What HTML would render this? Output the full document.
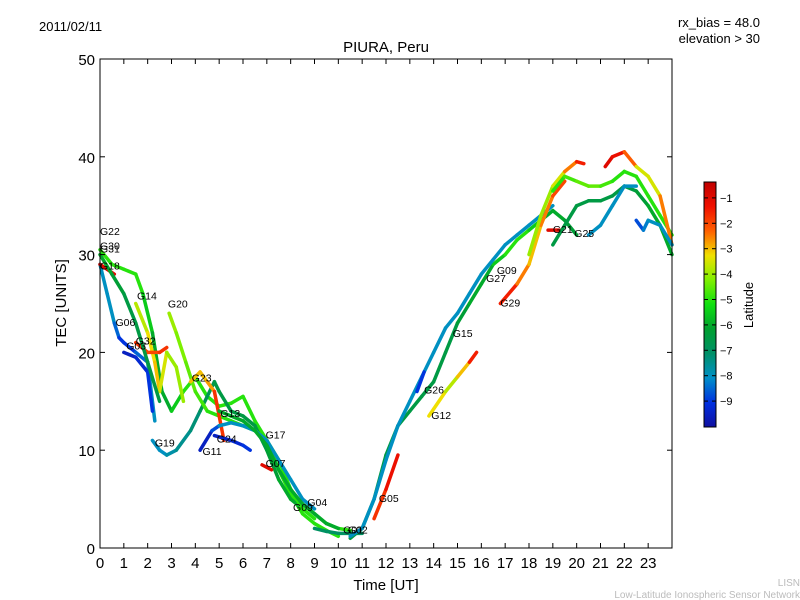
<!DOCTYPE html>
<html><head><meta charset="utf-8"><style>
body{margin:0;background:#fff;}
svg{display:block;font-family:"Liberation Sans","DejaVu Sans",sans-serif;}
</style></head><body>
<svg id="c" width="800" height="600" viewBox="0 0 800 600">
<rect width="800" height="600" fill="#fff"/>
<text x="39" y="31" font-size="13">2011/02/11</text>
<text x="760" y="27" font-size="13" text-anchor="end">rx_bias = 48.0</text>
<text x="760" y="43" font-size="13" text-anchor="end">elevation &gt; 30</text>
<text x="386" y="52" font-size="15" text-anchor="middle">PIURA, Peru</text>
<g id="marks"></g>
<g id="labels" font-size="10.5"></g>
<rect x="100" y="59" width="572" height="489" fill="none" stroke="#000" stroke-width="1"/>
<g id="axes" font-size="15"></g>
<text x="386" y="590" font-size="15" text-anchor="middle">Time [UT]</text>
<text x="66" y="303" font-size="15" text-anchor="middle" transform="rotate(-90 66 303)">TEC [UNITS]</text>
<defs><linearGradient id="jet" x1="0" y1="1" x2="0" y2="0">
<stop offset="0" stop-color="#1010a0"/><stop offset="0.1" stop-color="#0030e0"/><stop offset="0.2" stop-color="#0090c8"/><stop offset="0.3" stop-color="#009068"/><stop offset="0.4" stop-color="#00a030"/><stop offset="0.5" stop-color="#10e010"/><stop offset="0.6" stop-color="#80f000"/><stop offset="0.7" stop-color="#f0e000"/><stop offset="0.8" stop-color="#ff6000"/><stop offset="0.9" stop-color="#f01000"/><stop offset="1" stop-color="#c00000"/></linearGradient></defs>
<rect x="704" y="182" width="12" height="245" fill="url(#jet)" stroke="#000" stroke-width="1"/>
<g id="cbticks" font-size="11"></g>
<text x="753" y="305" font-size="13" text-anchor="middle" transform="rotate(-90 753 305)">Latitude</text>
<text x="800" y="586" font-size="10" fill="#bbb" text-anchor="end">LISN</text>
<text x="800" y="598" font-size="10" fill="#bbb" text-anchor="end">Low-Latitude Ionospheric Sensor Network</text>
</svg>
<script>
const xTicks=[0,1,2,3,4,5,6,7,8,9,10,11,12,13,14,15,16,17,18,19,20,21,22,23];
const yTicks=[0,10,20,30,40,50];
const cbTicks=[-1,-2,-3,-4,-5,-6,-7,-8,-9];
const trackNames=["A","G06","G03","G14","G32","G19","G20","G23","G11","G13","G07","G04","G01","G05","riseG","riseC","G12","G29","hiY","G21","eveG","eveL","G25","eveR","eveB","G18","G31","G17","G26"];
const trackT=[
[0,0.5,1,1.5,1.8,2.2,2.6,3,3.5,4,4.5,5,5.5,6,6.5,7,7.5,8,8.5,9,9.5,10],
[0,0.3,0.6,0.8,1,1.5,2,2.3],
[1,1.5,2,2.2],
[1.5,2,2.3,2.5,2.8,3.2,3.5],
[1.5,2,2.5,2.8],
[2.2,2.5,2.8,3.2,3.8,4.2,4.8,5,5.5,6,6.5,7,7.5,8,8.5],
[2.9,3.2,3.6,4,4.5,5,5.5,6,6.5,7,7.5,8,8.5,9],
[3.8,4.2,4.5,4.8,5.2],
[4.2,4.7,5,5.5,6,6.5,7,7.5,8,8.5,9],
[4.8,5.5,6,6.3],
[6.8,7.2],
[8.5,9,9.5,10,10.5],
[9,9.5,10,10.5,11],
[11.5,12,12.5],
[10.5,11,11.5,12,12.5,13,13.5,14,14.5,15,15.5,16,16.5,17,17.5,18,18.5,19,19.5,20],
[10.5,11,11.5,12,12.5,13,13.5,14,14.5,15,15.5,16,16.5,17,17.5,18,18.5,19],
[13.8,14.5,15,15.5,15.8],
[16.8,17.5,18,18.5,19,19.5],
[18,18.5,19,19.5,20,20.3],
[18.8,19.3],
[19,19.5,20,20.5,21,21.5,22,22.5,23,23.5,24],
[19,19.5,20,20.5,21,21.5,22,22.5,23,23.5,24],
[20.5,21,21.5,22,22.5],
[21.2,21.5,22,22.5,23,23.5,24],
[22.5,22.8,23,23.5,24],
[0,0.3,0.6],
[0,0.5,1,1.5,2,2.5],
[5,5.5,6,6.5,7,7.5,8,8.5,9,9.5,10],
[13.3,13.6]];
const trackV=[
[30.5,29,28.5,28,26,22,16,14,16,17.5,15.5,14.5,14.8,15.5,13,11,8,5.5,3.5,2.5,1.8,1.2],
[29,26,23,21.5,21,20,19,13],
[20,19.5,18,14],
[25,22,19,16,20,18.5,15],
[21,20,20,20.5],
[11,10,9.5,10,12,14,17,16,14,13.5,12.5,10,7,5,4],
[24,22,19,16,14,13.5,13,12.5,12,11,9,6,4,3],
[17,18,17,16,11],
[10,12,12.5,12.8,12.5,12,11,9,7,5,4],
[11.5,11,10.5,10],
[8.5,8],
[4.5,3.5,2.5,2,1.8],
[2,1.7,1.5,1.5,1.5],
[3,6,9.5],
[1,2,5,9.5,12.5,14,15.5,17,20,23,25,27,29,30,31.5,32.5,33.5,34.5,33.5,32],
[1.2,2,5,9,12.5,15,17.5,20,22.5,24,26,28,29.5,31,32,33,34,35],
[13.5,16,17.5,19,20],
[25,27,29,33,36,37.5],
[30,34,37,38.5,39.5,39.3],
[32.5,32.5],
[31,33,35,35.5,35.5,36,37,36.5,35,33,30],
[36.5,38,37.5,37,37,37.5,38.5,38,36,34,32],
[32,33,35,37,37],
[39,40,40.5,39,38,36,31],
[33.5,32.5,33.5,33,31],
[29,28.5,28],
[30,28,26,23,19,15],
[14,13.5,13,12,10.5,8,6,4.5,3.5,2.5,2],
[16,18]];
const trackLat=[
[-5,-5,-5,-5,-5,-6,-6,-6,-5,-5,-5,-5,-5,-5,-5,-5,-5,-5,-5,-5,-5,-5],
[-8,-8,-8,-9,-9,-9,-8,-8],
[-9.5,-9.5,-9,-9],
[-4,-3.5,-3,-3,-4,-4,-4],
[-2,-1.5,-2.5,-1],
[-8,-8,-8,-7.5,-7.5,-7,-6.5,-6.5,-6.5,-6.5,-6.5,-6.5,-6,-6,-6],
[-4,-4,-4.5,-4.5,-5,-5,-5,-5,-5,-5,-5,-5,-5,-5],
[-3,-3,-3,-2.5,-1],
[-9.5,-9.5,-8,-8,-8,-8,-8,-8,-8,-8,-8],
[-9.5,-9.5,-9,-9],
[-1,-1],
[-5,-5,-5,-5,-5],
[-7,-7,-7,-7,-7],
[-2,-1.5,-1],
[-6.5,-6.5,-6.5,-6.5,-6.5,-6.5,-6.5,-6.5,-6.5,-6.5,-6,-6,-6,-5,-5,-5,-6,-6,-6,-6.5],
[-8,-8,-8,-8,-8,-8,-8,-8,-8,-8,-8,-8,-8,-8,-8,-8,-8,-8],
[-3,-3.5,-4,-2,-1],
[-1,-2,-3,-3,-2,-2],
[-4,-4,-4,-3,-2,-1],
[-1,-1],
[-6.5,-6.5,-6.5,-6.5,-6.5,-6.5,-6.5,-6.5,-6,-6,-6],
[-5,-5,-4.5,-4.5,-4.5,-5,-5,-5,-5,-5,-5],
[-8,-8,-8,-8,-8],
[-1,-1,-1.5,-3,-4,-3,-2],
[-9,-8.5,-8,-8,-8],
[-1,-1,-1],
[-6,-6,-6.5,-6.5,-6.5,-6.5],
[-6,-6,-6,-6,-6,-6,-6,-6,-6,-6,-6],
[-9,-9]];
const labelText=["G22","G30","G31","G18","G14","G20","G06","G32","G03","G23","G13","G19","G24","G11","G17","G07","G04","G09","G01","G02","G05","G12","G26","G15","G27","G09","G29","G21","G25"];
const labelT=[0,0,0,0,1.55,2.85,0.65,1.5,1.1,3.85,5.05,2.3,4.9,4.3,6.95,6.95,8.7,8.1,10.2,10.4,11.7,13.9,13.6,14.8,16.2,16.65,16.8,19,19.9];
const labelV=[32,30.5,30.2,28.5,25.4,24.6,22.7,20.8,20.3,17,13.4,10.4,10.8,9.5,11.2,8.3,4.3,3.8,1.5,1.5,4.7,13.2,15.8,21.6,27.2,28,24.7,32.2,31.8];

const X0=100,X1=672,Y0=548,Y1=59;
const xs=t=>X0+t*(X1-X0)/24;
const ys=v=>Y0-v*(Y0-Y1)/50;
const cb=l=>427-(l+10.02)*25.4;
const cmap=[[16,16,160],[0,48,224],[0,144,200],[0,144,104],[0,160,48],[16,224,16],[128,240,0],[240,224,0],[255,96,0],[240,16,0],[192,0,0]];
function jet(lat){let f=(lat+10)/9.63;f=Math.max(0,Math.min(1,f))*10;
 const i=Math.min(9,Math.floor(f)),r=f-i,a=cmap[i],b=cmap[i+1];
 const c=k=>Math.round(a[k]+(b[k]-a[k])*r);
 return `rgb(${c(0)},${c(1)},${c(2)})`;}
const NS="http://www.w3.org/2000/svg";
const mk=(tag,attrs,parent)=>{const e=document.createElementNS(NS,tag);for(const k in attrs)e.setAttribute(k,attrs[k]);parent.appendChild(e);return e;};
const marks=document.getElementById('marks');
trackT.forEach((ts,i)=>{
 const g=mk('g',{},marks);
 
 
 for(let j=0;j<ts.length-1;j++){
  const s=mk('line',{x1:xs(ts[j]),y1:ys(trackV[i][j]),x2:xs(ts[j+1]),y2:ys(trackV[i][j+1]),stroke:jet((trackLat[i][j]+trackLat[i][j+1])/2),'stroke-width':3.5,'stroke-linecap':'round'},g);
  
  
 }
});
const lg=document.getElementById('labels');
labelText.forEach((t,i)=>{
 const e=mk('text',{x:xs(labelT[i]),y:ys(labelV[i])},lg);e.textContent=t;
 
 
});
const ax=document.getElementById('axes');
xTicks.forEach(t=>{const x=xs(t);
 mk('line',{x1:x,x2:x,y1:Y0,y2:Y0-5,stroke:'#000'},ax);mk('line',{x1:x,x2:x,y1:Y1,y2:Y1+5,stroke:'#000'},ax);
 const e=mk('text',{x:x,y:Y0+20,'text-anchor':'middle'},ax);e.textContent=t;
 
 });
yTicks.forEach(v=>{const y=ys(v);
 mk('line',{x1:X0,x2:X0+5,y1:y,y2:y,stroke:'#000'},ax);mk('line',{x1:X1,x2:X1-5,y1:y,y2:y,stroke:'#000'},ax);
 const e=mk('text',{x:X0-5,y:y+6,'text-anchor':'end'},ax);e.textContent=v;
 
 });
const cg=document.getElementById('cbticks');
cbTicks.forEach(l=>{const y=cb(l);
 mk('line',{x1:704,x2:708,y1:y,y2:y,stroke:'#000'},cg);mk('line',{x1:716,x2:712,y1:y,y2:y,stroke:'#000'},cg);
 const e=mk('text',{x:720,y:y+4},cg);e.textContent='\u2212'+(-l);
 
 });
</script>
</body></html>
